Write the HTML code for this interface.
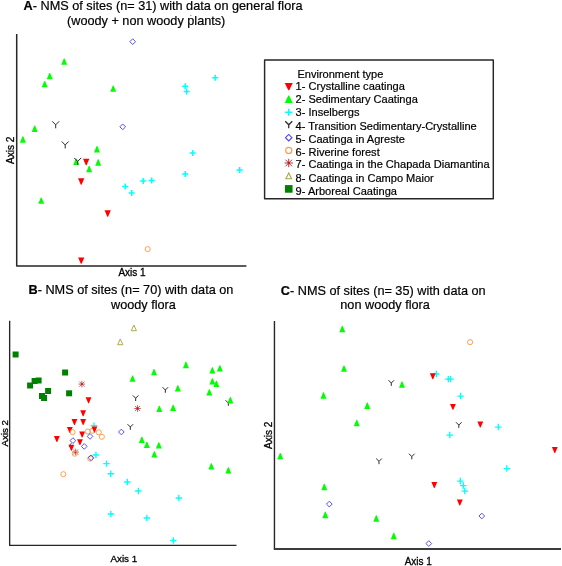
<!DOCTYPE html>
<html><head><meta charset="utf-8"><title>NMS of sites</title>
<style>
html,body{margin:0;padding:0;background:#fff;}
body{width:562px;height:566px;overflow:hidden;}
svg{display:block;}
text{font-family:"Liberation Sans",Arial,sans-serif;fill:#000;stroke:#000;stroke-width:0.2px;}
.t{font-size:12.7px;}
.l{font-size:11.06px;}
.ax{font-size:9.7px;stroke-width:0.3px;}
</style></head><body>
<svg width="562" height="566" viewBox="0 0 562 566">
<rect width="562" height="566" fill="#fff"/>

<g stroke="#262626" fill="none" stroke-linejoin="round">
<path d="M16.7,34.1V266.05H246.4" stroke-width="1.5"/>
<path d="M9.65,320.8V545.4H236.5" stroke-width="1.35"/>
<path d="M274.45,321V548.95" stroke-width="1.4"/>
<path d="M273.8,548.95H561" stroke-width="1.9" stroke="#3c3c3c"/>
<rect x="264.6" y="60" width="228.7" height="138.7" stroke-width="1.45"/>
</g>
<text class="t" x="23.6" y="10"><tspan font-weight="bold">A</tspan>- NMS of sites (n= 31) with data on general flora</text>
<text class="t" x="67" y="25">(woody + non woody plants)</text>
<text class="t" x="28.5" y="294.2"><tspan font-weight="bold">B</tspan>- NMS of sites (n= 70) with data on</text>
<text class="t" x="111" y="309">woody flora</text>
<text class="t" x="280.8" y="295"><tspan font-weight="bold">C</tspan>- NMS of sites (n= 35) with data on</text>
<text class="t" x="340.3" y="309">non woody flora</text>
<circle cx="190.9" cy="15.2" r="0.55" fill="#444"/>
<text class="ax" style="font-size:10px" x="132" y="275.9" text-anchor="middle">Axis 1</text>
<text class="ax" style="font-size:9.85px" x="123.8" y="561.7" text-anchor="middle">Axis 1</text>
<text class="ax" style="font-size:10px" x="418.3" y="564.6" text-anchor="middle">Axis 1</text>
<text class="ax" style="font-size:10.1px" transform="translate(14.4,150.3) rotate(-90)" text-anchor="middle">Axis 2</text>
<text class="ax" transform="translate(7.9,433.3) rotate(-90)" text-anchor="middle">Axis 2</text>
<text class="ax" style="font-size:10px" transform="translate(272.3,435.4) rotate(-90)" text-anchor="middle">Axis 2</text>
<text class="l" x="297.4" y="78.3">Environment type</text>
<text class="l" x="295.6" y="90.4">1- Crystalline caatinga</text>
<path d="M284.75,82.95H292.75L289.19,90.3H288.31Z" fill="#ff0000"/>
<text class="l" x="295.6" y="103.3">2- Sedimentary Caatinga</text>
<path d="M284.75,103H292.75L289.19,95.6H288.31Z" fill="#00ff00"/>
<text class="l" x="295.6" y="115.9">3- Inselbergs</text>
<path d="M285.17,112.25H292.33M288.75,108.67V115.83" stroke="#00ffff" stroke-width="1.51" fill="none"/>
<text class="l" x="295.6" y="129.5">4- Transition Sedimentary-Crystalline</text>
<path d="M285.25,121.3L288.75,124.8L292.25,121.3M288.75,124.8V128.3" stroke="#2a2a2a" stroke-width="1.25" fill="none"/>
<text class="l" x="295.6" y="142.9">5- Caatinga in Agreste</text>
<path d="M285.5,137.7L288.75,134.45L292,137.7L288.75,140.95Z" stroke="#4848f0" stroke-width="1.08" fill="none"/>
<text class="l" x="295.6" y="155.8">6- Riverine forest</text>
<circle cx="288.75" cy="150.4" r="3.06" stroke="#ff9a4a" stroke-width="1.14" fill="none"/>
<text class="l" x="295.6" y="168.3">7- Caatinga in the Chapada Diamantina</text>
<path d="M284.56,163H292.94M288.75,158.81V167.19M285.48,159.73L292.02,166.27M285.48,166.27L292.02,159.73" stroke="#a83030" stroke-width="0.95" fill="none"/><circle cx="288.75" cy="163" r="1.14" fill="#d81010"/>
<text class="l" x="295.6" y="182">8- Caatinga in Campo Maior</text>
<path d="M285.9,178.8H291.6L288.75,172.9Z" stroke="#a6a648" stroke-width="1.04" fill="none"/>
<text class="l" x="295.6" y="194.9">9- Arboreal Caatinga</text>
<rect x="284.94" y="185.09" width="7.62" height="7.62" fill="#008000"/>
<g id="plotA">
<path d="M182.2,86.24H188.2M185.2,83.24V89.24" stroke="#00ffff" stroke-width="1.5" fill="none"/>
<path d="M183.7,91.55H189.7M186.7,88.55V94.55" stroke="#00ffff" stroke-width="1.5" fill="none"/>
<path d="M212.2,77.83H218.2M215.2,74.83V80.83" stroke="#00ffff" stroke-width="1.5" fill="none"/>
<path d="M189.7,152.88H195.7M192.7,149.88V155.88" stroke="#00ffff" stroke-width="1.5" fill="none"/>
<path d="M236.7,169.91H242.7M239.7,166.91V172.91" stroke="#00ffff" stroke-width="1.5" fill="none"/>
<path d="M182.2,173.92H188.2M185.2,170.92V176.92" stroke="#00ffff" stroke-width="1.5" fill="none"/>
<path d="M148.7,180.44H154.7M151.7,177.44V183.44" stroke="#00ffff" stroke-width="1.5" fill="none"/>
<path d="M140.2,180.94H146.2M143.2,177.94V183.94" stroke="#00ffff" stroke-width="1.5" fill="none"/>
<path d="M122.2,186.45H128.2M125.2,183.45V189.45" stroke="#00ffff" stroke-width="1.5" fill="none"/>
<path d="M128.7,192.96H134.7M131.7,189.96V195.96" stroke="#00ffff" stroke-width="1.5" fill="none"/>
<path d="M129.85,41.65L132.7,38.8L135.55,41.65L132.7,44.5Z" stroke="#4848f0" stroke-width="0.95" fill="none"/>
<path d="M119.85,126.83L122.7,123.98L125.55,126.83L122.7,129.68Z" stroke="#4848f0" stroke-width="0.95" fill="none"/>
<path d="M61.2,64.79H67.2L64.55,58.39H63.85Z" fill="#00ff00"/>
<path d="M46.7,79.32H52.7L50.05,72.92H49.35Z" fill="#00ff00"/>
<path d="M41.7,87.34H47.7L45.05,80.94H44.35Z" fill="#00ff00"/>
<path d="M110.2,91.85H116.2L113.55,85.45H112.85Z" fill="#00ff00"/>
<path d="M31.7,131.93H37.7L35.05,125.53H34.35Z" fill="#00ff00"/>
<path d="M19.9,142.65H25.9L23.25,136.25H22.55Z" fill="#00ff00"/>
<path d="M94,152.47H100L97.35,146.07H96.65Z" fill="#00ff00"/>
<path d="M95.2,165.7H101.2L98.55,159.3H97.85Z" fill="#00ff00"/>
<path d="M86.2,172.21H92.2L89.55,165.81H88.85Z" fill="#00ff00"/>
<path d="M73.2,165H79.2L76.55,158.6H75.85Z" fill="#00ff00"/>
<path d="M38.2,203.78H44.2L41.55,197.38H40.85Z" fill="#00ff00"/>
<path d="M52.2,121.32L55.7,124.82L59.2,121.32M55.7,124.82V128.32" stroke="#2a2a2a" stroke-width="1" fill="none"/>
<path d="M61.7,141.46L65.2,144.96L68.7,141.46M65.2,144.96V148.46" stroke="#2a2a2a" stroke-width="1" fill="none"/>
<path d="M74.2,157.9L77.7,161.4L81.2,157.9M77.7,161.4V164.9" stroke="#2a2a2a" stroke-width="1" fill="none"/>
<path d="M83.07,158.71H89.33L86.58,165.13H85.82Z" fill="#ff0000"/>
<path d="M78.07,178.25H84.33L81.58,184.67H80.82Z" fill="#ff0000"/>
<path d="M104.57,210.32H110.83L108.08,216.74H107.32Z" fill="#ff0000"/>
<path d="M78.07,257.41H84.33L81.58,263.84H80.82Z" fill="#ff0000"/>
<circle cx="147.7" cy="249.08" r="2.55" stroke="#ff9a4a" stroke-width="0.95" fill="none"/>
</g>
<g id="plotB">
<path d="M90.8,425.6H97.2M94,422.4V428.8" stroke="#00ffff" stroke-width="1.35" fill="none"/>
<path d="M92.75,455H99.15M95.95,451.8V458.2" stroke="#00ffff" stroke-width="1.35" fill="none"/>
<path d="M103.25,463.6H109.65M106.45,460.4V466.8" stroke="#00ffff" stroke-width="1.35" fill="none"/>
<path d="M107.55,473.7H113.95M110.75,470.5V476.9" stroke="#00ffff" stroke-width="1.35" fill="none"/>
<path d="M124.15,482H130.55M127.35,478.8V485.2" stroke="#00ffff" stroke-width="1.35" fill="none"/>
<path d="M135.15,491H141.55M138.35,487.8V494.2" stroke="#00ffff" stroke-width="1.35" fill="none"/>
<path d="M175.65,498H182.05M178.85,494.8V501.2" stroke="#00ffff" stroke-width="1.35" fill="none"/>
<path d="M107.65,514H114.05M110.85,510.8V517.2" stroke="#00ffff" stroke-width="1.35" fill="none"/>
<path d="M143.65,518H150.05M146.85,514.8V521.2" stroke="#00ffff" stroke-width="1.35" fill="none"/>
<path d="M170.15,540.5H176.55M173.35,537.3V543.7" stroke="#00ffff" stroke-width="1.35" fill="none"/>
<rect x="12.6" y="351.5" width="6" height="6" fill="#008000"/>
<rect x="62.1" y="369.5" width="6" height="6" fill="#008000"/>
<rect x="35.6" y="377.5" width="6" height="6" fill="#008000"/>
<rect x="31.6" y="378" width="6" height="6" fill="#008000"/>
<rect x="27.1" y="382.5" width="6" height="6" fill="#008000"/>
<rect x="45.1" y="388" width="6" height="6" fill="#008000"/>
<rect x="66.1" y="390.3" width="6" height="6" fill="#008000"/>
<rect x="39" y="393" width="6" height="6" fill="#008000"/>
<rect x="41.1" y="395" width="6" height="6" fill="#008000"/>
<path d="M131.25,330.7H136.45L133.85,325Z" stroke="#a6a648" stroke-width="0.95" fill="none"/>
<path d="M117.65,344.7H122.85L120.25,339Z" stroke="#a6a648" stroke-width="0.95" fill="none"/>
<path d="M78.55,384.1H85.15M81.85,380.8V387.4M79.28,381.53L84.42,386.67M79.28,386.67L84.42,381.53" stroke="#a83030" stroke-width="0.75" fill="none"/><circle cx="81.85" cy="384.1" r="0.9" fill="#d81010"/>
<path d="M134.25,408.5H140.85M137.55,405.2V411.8M134.98,405.93L140.12,411.07M134.98,411.07L140.12,405.93" stroke="#a83030" stroke-width="0.75" fill="none"/><circle cx="137.55" cy="408.5" r="0.9" fill="#d81010"/>
<path d="M72.3,452H78.9M75.6,448.7V455.3M73.03,449.43L78.17,454.57M73.03,454.57L78.17,449.43" stroke="#a83030" stroke-width="0.75" fill="none"/><circle cx="75.6" cy="452" r="0.9" fill="#d81010"/>
<path d="M132.85,395.4L135.65,398.2L138.45,395.4M135.65,398.2V401" stroke="#2a2a2a" stroke-width="1" fill="none"/>
<path d="M162.55,387.2L165.35,390L168.15,387.2M165.35,390V392.8" stroke="#2a2a2a" stroke-width="1" fill="none"/>
<path d="M127.55,424.2L130.35,427L133.15,424.2M130.35,427V429.8" stroke="#2a2a2a" stroke-width="1" fill="none"/>
<path d="M225.55,400.2L228.35,403L231.15,400.2M228.35,403V405.8" stroke="#2a2a2a" stroke-width="1" fill="none"/>
<path d="M129.55,381.8H135.55L132.9,375.4H132.2Z" fill="#00ff00"/>
<path d="M151.05,375.3H157.05L154.4,368.9H153.7Z" fill="#00ff00"/>
<path d="M182.95,368.2H188.95L186.3,361.8H185.6Z" fill="#00ff00"/>
<path d="M209.35,373.6H215.35L212.7,367.2H212Z" fill="#00ff00"/>
<path d="M216.85,371.6H222.85L220.2,365.2H219.5Z" fill="#00ff00"/>
<path d="M209.35,384.6H215.35L212.7,378.2H212Z" fill="#00ff00"/>
<path d="M213.35,387.1H219.35L216.7,380.7H216Z" fill="#00ff00"/>
<path d="M174.85,391.6H180.85L178.2,385.2H177.5Z" fill="#00ff00"/>
<path d="M206.35,395.6H212.35L209.7,389.2H209Z" fill="#00ff00"/>
<path d="M227.35,403.4H233.35L230.7,397H230Z" fill="#00ff00"/>
<path d="M156.35,412.1H162.35L159.7,405.7H159Z" fill="#00ff00"/>
<path d="M170.15,411.1H176.15L173.5,404.7H172.8Z" fill="#00ff00"/>
<path d="M138.85,443.1H144.85L142.2,436.7H141.5Z" fill="#00ff00"/>
<path d="M143.85,448.1H149.85L147.2,441.7H146.5Z" fill="#00ff00"/>
<path d="M155.85,448.6H161.85L159.2,442.2H158.5Z" fill="#00ff00"/>
<path d="M151.35,457.6H157.35L154.7,451.2H154Z" fill="#00ff00"/>
<path d="M208.35,469.6H214.35L211.7,463.2H211Z" fill="#00ff00"/>
<path d="M225.35,473.6H231.35L228.7,467.2H228Z" fill="#00ff00"/>
<circle cx="92.25" cy="430.8" r="2.55" stroke="#ff9a4a" stroke-width="0.95" fill="none"/>
<path d="M69.35,446.8Q69.6,444.3 71.6,443.1" stroke="#222" stroke-width="0.9" fill="none"/>
<path d="M85.65,397.35H91.45L88.9,403.3H88.2Z" fill="#ff0000"/>
<path d="M80.25,410.35H86.05L83.5,416.3H82.8Z" fill="#ff0000"/>
<path d="M71.55,418.95H77.35L74.8,424.9H74.1Z" fill="#ff0000"/>
<path d="M80.25,418.95H86.05L83.5,424.9H82.8Z" fill="#ff0000"/>
<path d="M66.95,426.95H72.75L70.2,432.9H69.5Z" fill="#ff0000"/>
<path d="M91.55,426.45H97.35L94.8,432.4H94.1Z" fill="#ff0000"/>
<path d="M79.25,431.55H85.05L82.5,437.5H81.8Z" fill="#ff0000"/>
<path d="M53.95,435.95H59.75L57.2,441.9H56.5Z" fill="#ff0000"/>
<path d="M77.05,439.15H82.85L80.3,445.1H79.6Z" fill="#ff0000"/>
<path d="M68.5,444.75H74.3L71.75,450.7H71.05Z" fill="#ff0000"/>
<circle cx="72.55" cy="432.2" r="2.55" stroke="#ff9a4a" stroke-width="0.95" fill="none"/>
<circle cx="87.85" cy="431.5" r="2.55" stroke="#ff9a4a" stroke-width="0.95" fill="none"/>
<circle cx="98.75" cy="432.3" r="2.55" stroke="#ff9a4a" stroke-width="0.95" fill="none"/>
<circle cx="101.85" cy="436.8" r="2.55" stroke="#ff9a4a" stroke-width="0.95" fill="none"/>
<circle cx="74.8" cy="453.7" r="2.55" stroke="#ff9a4a" stroke-width="0.95" fill="none"/>
<circle cx="90.25" cy="458.6" r="2.55" stroke="#ff9a4a" stroke-width="0.95" fill="none"/>
<circle cx="63.35" cy="474.2" r="2.55" stroke="#ff9a4a" stroke-width="0.95" fill="none"/>
<path d="M87.2,436.4L90.05,433.55L92.9,436.4L90.05,439.25Z" stroke="#4848f0" stroke-width="0.95" fill="none"/>
<path d="M70.1,440.6L72.95,437.75L75.8,440.6L72.95,443.45Z" stroke="#4848f0" stroke-width="0.95" fill="none"/>
<path d="M81.4,446.4L84.25,443.55L87.1,446.4L84.25,449.25Z" stroke="#4848f0" stroke-width="0.95" fill="none"/>
<path d="M118.5,432L121.35,429.15L124.2,432L121.35,434.85Z" stroke="#4848f0" stroke-width="0.95" fill="none"/>
<path d="M88.2,457.8L91.05,454.95L93.9,457.8L91.05,460.65Z" stroke="#4848f0" stroke-width="0.95" fill="none"/>
</g>
<g id="plotC">
<path d="M433.1,373.95H439.5M436.3,370.75V377.15" stroke="#00ffff" stroke-width="1.35" fill="none"/>
<path d="M445.1,379.1H451.5M448.3,375.9V382.3" stroke="#00ffff" stroke-width="1.35" fill="none"/>
<path d="M447.3,379.1H453.7M450.5,375.9V382.3" stroke="#00ffff" stroke-width="1.35" fill="none"/>
<path d="M457.4,396.05H463.8M460.6,392.85V399.25" stroke="#00ffff" stroke-width="1.35" fill="none"/>
<path d="M446.6,435.05H453M449.8,431.85V438.25" stroke="#00ffff" stroke-width="1.35" fill="none"/>
<path d="M495.1,427.05H501.5M498.3,423.85V430.25" stroke="#00ffff" stroke-width="1.35" fill="none"/>
<path d="M503.6,468.55H510M506.8,465.35V471.75" stroke="#00ffff" stroke-width="1.35" fill="none"/>
<path d="M457.1,481.05H463.5M460.3,477.85V484.25" stroke="#00ffff" stroke-width="1.35" fill="none"/>
<path d="M460.1,485.55H466.5M463.3,482.35V488.75" stroke="#00ffff" stroke-width="1.35" fill="none"/>
<path d="M461.6,491.05H468M464.8,487.85V494.25" stroke="#00ffff" stroke-width="1.35" fill="none"/>
<path d="M339.3,332.15H345.3L342.65,325.75H341.95Z" fill="#00ff00"/>
<path d="M341,371.85H347L344.35,365.45H343.65Z" fill="#00ff00"/>
<path d="M399,387.85H405L402.35,381.45H401.65Z" fill="#00ff00"/>
<path d="M320.5,398.65H326.5L323.85,392.25H323.15Z" fill="#00ff00"/>
<path d="M364.3,408.95H370.3L367.65,402.55H366.95Z" fill="#00ff00"/>
<path d="M353.8,426.15H359.8L357.15,419.75H356.45Z" fill="#00ff00"/>
<path d="M277.3,459.35H283.3L280.65,452.95H279.95Z" fill="#00ff00"/>
<path d="M321.3,490.15H327.3L324.65,483.75H323.95Z" fill="#00ff00"/>
<path d="M322.3,518.15H328.3L325.65,511.75H324.95Z" fill="#00ff00"/>
<path d="M373.3,521.65H379.3L376.65,515.25H375.95Z" fill="#00ff00"/>
<path d="M390.8,539.15H396.8L394.15,532.75H393.45Z" fill="#00ff00"/>
<circle cx="470.1" cy="342.15" r="2.55" stroke="#ff9a4a" stroke-width="0.95" fill="none"/>
<path d="M429.9,373.25H435.7L433.15,379.2H432.45Z" fill="#ff0000"/>
<path d="M450.05,403.9H455.85L453.3,409.85H452.6Z" fill="#ff0000"/>
<path d="M477.4,421.6H483.2L480.65,427.55H479.95Z" fill="#ff0000"/>
<path d="M551.9,447.1H557.7L555.15,453.05H554.45Z" fill="#ff0000"/>
<path d="M431.4,482.1H437.2L434.65,488.05H433.95Z" fill="#ff0000"/>
<path d="M456.9,499.6H462.7L460.15,505.55H459.45Z" fill="#ff0000"/>
<path d="M388.5,380.25L391.3,383.05L394.1,380.25M391.3,383.05V385.85" stroke="#2a2a2a" stroke-width="1" fill="none"/>
<path d="M456,422.25L458.8,425.05L461.6,422.25M458.8,425.05V427.85" stroke="#2a2a2a" stroke-width="1" fill="none"/>
<path d="M376.2,458.55L379,461.35L381.8,458.55M379,461.35V464.15" stroke="#2a2a2a" stroke-width="1" fill="none"/>
<path d="M409,453.75L411.8,456.55L414.6,453.75M411.8,456.55V459.35" stroke="#2a2a2a" stroke-width="1" fill="none"/>
<path d="M326.45,504.05L329.3,501.2L332.15,504.05L329.3,506.9Z" stroke="#4848f0" stroke-width="0.95" fill="none"/>
<path d="M478.95,516.05L481.8,513.2L484.65,516.05L481.8,518.9Z" stroke="#4848f0" stroke-width="0.95" fill="none"/>
<path d="M425.95,543.55L428.8,540.7L431.65,543.55L428.8,546.4Z" stroke="#4848f0" stroke-width="0.95" fill="none"/>
</g>
</svg></body></html>
